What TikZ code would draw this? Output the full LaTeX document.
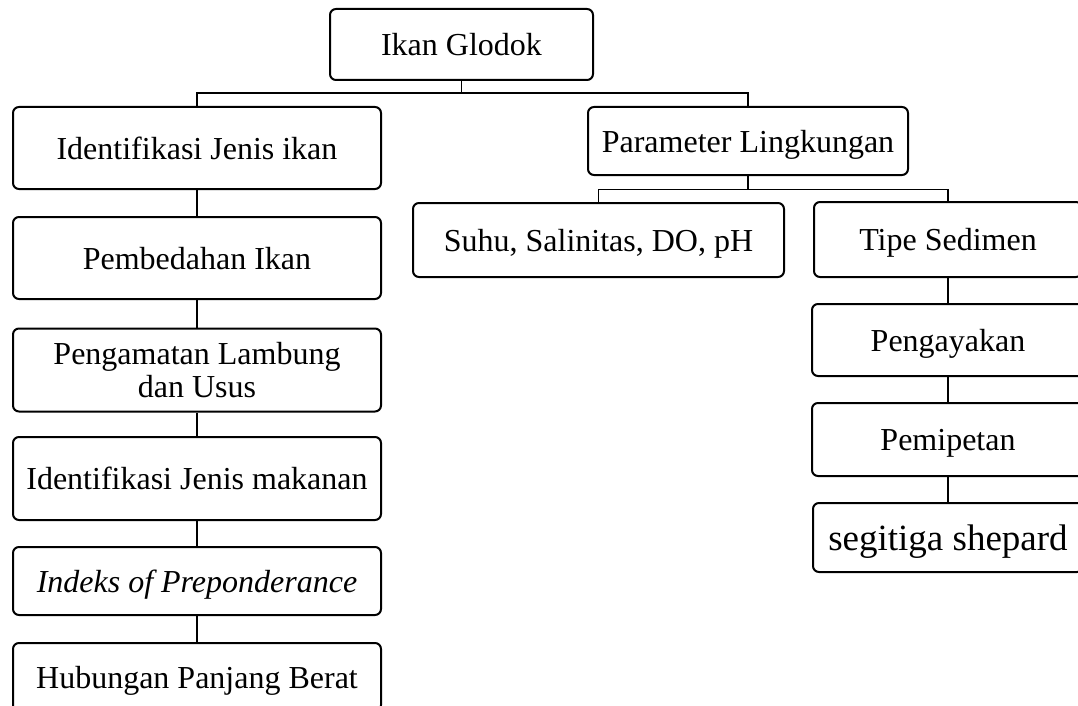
\documentclass[tikz,border=0pt]{standalone}
\usepackage{fontspec}
\setmainfont{Liberation Serif}
\begin{document}
\begin{tikzpicture}[x=1pt,y=-1pt,
  box/.style={draw, line width=2pt, rounded corners=6pt, align=center,
    inner sep=0pt, text depth=0pt, font=\fontsize{32}{34}\selectfont},
  conn/.style={line width=1.7pt}]
\useasboundingbox (0,0) rectangle (1078,706);
\clip (0,0) rectangle (1078,706);
\fill[white] (0,0) rectangle (1078,706);
% top
\node[box, minimum width=263pt, minimum height=71pt] (top) at (461.5,44.5) {Ikan Glodok};
% left column
\node[box, minimum width=368pt, minimum height=82pt] (l1) at (197,148) {Identifikasi Jenis ikan};
\node[box, minimum width=368pt, minimum height=82pt] (l2) at (197,258) {Pembedahan Ikan};
\node[box, minimum width=368pt, minimum height=83pt] (l3) at (197,370) {Pengamatan Lambung\\[-1pt]dan Usus};
\node[box, minimum width=368pt, minimum height=83pt] (l4) at (197,478.5) {Identifikasi Jenis makanan};
\node[box, minimum width=368pt, minimum height=68pt] (l5) at (197,581) {\textit{Indeks of Preponderance}};
\node[box, minimum width=368pt, minimum height=68pt] (l6) at (197,677) {Hubungan Panjang Berat};
% right part
\node[box, minimum width=320pt, minimum height=68pt] (par) at (748,141) {Parameter Lingkungan};
\node[box, minimum width=371pt, minimum height=74pt] (suhu) at (598.5,240) {Suhu, Salinitas, DO, pH};
\node[box, minimum width=268pt, minimum height=75pt] (tipe) at (948,239.5) {Tipe Sedimen};
\node[box, minimum width=272pt, minimum height=72pt] (r2) at (948,340) {Pengayakan};
\node[box, minimum width=272pt, minimum height=73pt] (r3) at (948,439.5) {Pemipetan};
\node[box, minimum width=270pt, minimum height=69pt, font=\fontsize{37}{40}\selectfont] (r4) at (948,537.5) {segitiga shepard};
% connectors
\coordinate (b1) at (top.south |- 0,93);
\draw[conn] (top.south) -- (b1);
\draw[conn] (b1) -| (l1.north);
\draw[conn] (b1) -| (par.north);
\draw[conn] (l1.south) -- (l2.north);
\draw[conn] (l2.south) -- (l3.north);
\draw[conn] (l3.south) -- (l4.north);
\draw[conn] (l4.south) -- (l5.north);
\draw[conn] (l5.south) -- (l6.north);
\coordinate (b2) at (par.south |- 0,189.5);
\draw[conn] (par.south) -- (b2);
\draw[conn] (b2) -| (suhu.north);
\draw[conn] (b2) -| (tipe.north);
\draw[conn] (tipe.south) -- (r2.north);
\draw[conn] (r2.south) -- (r3.north);
\draw[conn] (r3.south) -- (r4.north);
\end{tikzpicture}
\end{document}
